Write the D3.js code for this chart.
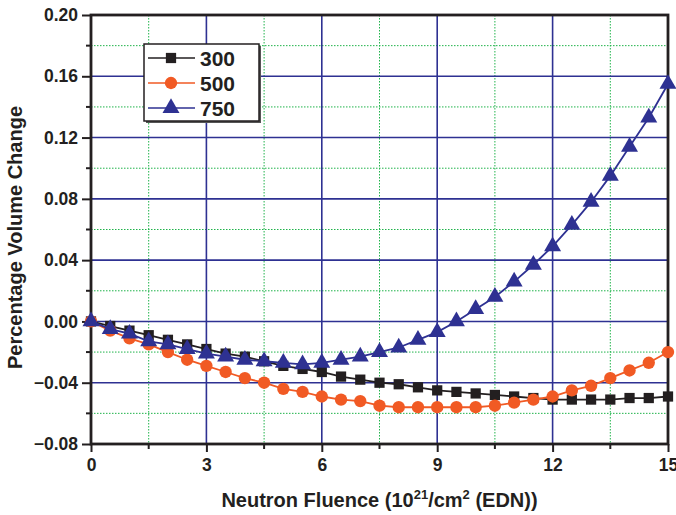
<!DOCTYPE html>
<html>
<head>
<meta charset="utf-8">
<script src="https://cdn.jsdelivr.net/npm/d3@7"></script>
<style>
  body { margin: 0; background: #fff; }
  text { font-family: 'Liberation Sans', Arial, sans-serif; font-weight: bold; }
</style>
</head>
<body>
<div id="chart"></div>
<script>
// fluence values, 0 to 15 in steps of 0.5
const fluence = [0, 0.5, 1, 1.5, 2, 2.5, 3, 3.5, 4, 4.5, 5, 5.5, 6, 6.5, 7, 7.5,
  8, 8.5, 9, 9.5, 10, 10.5, 11, 11.5, 12, 12.5, 13, 13.5, 14, 14.5, 15]

const series300 = [0, -0.003, -0.006, -0.009, -0.012, -0.015, -0.018, -0.021, -0.023, -0.026,
  -0.029, -0.031, -0.033, -0.036, -0.038, -0.040, -0.041, -0.043, -0.045, -0.046,
  -0.047, -0.048, -0.049, -0.050, -0.051, -0.051, -0.051, -0.051, -0.050, -0.050, -0.049]

const series500 = [0, -0.006, -0.011, -0.015, -0.020, -0.025, -0.029, -0.033, -0.037, -0.040,
  -0.044, -0.046, -0.049, -0.051, -0.052, -0.055, -0.056, -0.056, -0.056, -0.056,
  -0.056, -0.055, -0.053, -0.051, -0.049, -0.045, -0.042, -0.037, -0.032, -0.027, -0.020]

const series750 = [0, -0.005, -0.008, -0.013, -0.015, -0.018, -0.021, -0.023, -0.025, -0.026,
  -0.027, -0.028, -0.027, -0.025, -0.023, -0.020, -0.017, -0.012, -0.007, 0.000,
  0.008, 0.016, 0.026, 0.037, 0.049, 0.063, 0.078, 0.095, 0.114, 0.133, 0.155]

const seriesNames = ['300', '500', '750']
const xTicks = [0, 3, 6, 9, 12, 15]
const xMinor = [1.5, 4.5, 7.5, 10.5, 13.5]
const yTicks = [-0.08, -0.04, 0.00, 0.04, 0.08, 0.12, 0.16, 0.20]
const yMinor = [-0.06, -0.02, 0.02, 0.06, 0.10, 0.14, 0.18]

const W = 676
const H = 515
const margin = { top: 15, left: 91, right: 8, bottom: 71 }
const width = W - margin.left - margin.right
const height = H - margin.top - margin.bottom

const gridBlue = '#2e3192'
const gridGreen = '#1fb34a'
const colors = ['#231f20', '#f15a24', '#2e3192']
const shapes = [d3.symbolSquare, d3.symbolCircle, d3.symbolTriangle]
const sizes = [105, 120, 125]
const font = "'Liberation Sans', Arial, sans-serif"

const svg = d3
  .select('#chart')
  .append('svg')
  .attr('width', W)
  .attr('height', H)

const g = svg.append('g')
  .attr('transform', 'translate(' + margin.left + ',' + margin.top + ')')

const x = d3.scaleLinear().domain([0, 15]).range([0, width])
const y = d3.scaleLinear().domain([-0.08, 0.20]).range([height, 0])

// minor grid (green dotted)
g.selectAll('.vminor').data(xMinor).enter().append('line')
  .attr('x1', d => x(d)).attr('x2', d => x(d))
  .attr('y1', 0).attr('y2', height)
  .attr('stroke', gridGreen).attr('stroke-width', 1)
  .attr('stroke-dasharray', '1.5,1.5')
g.selectAll('.hminor').data(yMinor).enter().append('line')
  .attr('y1', d => y(d)).attr('y2', d => y(d))
  .attr('x1', 0).attr('x2', width)
  .attr('stroke', gridGreen).attr('stroke-width', 1)
  .attr('stroke-dasharray', '1.5,1.5')

// major grid (blue)
g.selectAll('.vmajor').data(xTicks.slice(1, -1)).enter().append('line')
  .attr('x1', d => x(d)).attr('x2', d => x(d))
  .attr('y1', 0).attr('y2', height)
  .attr('stroke', gridBlue).attr('stroke-width', 1.6)
g.selectAll('.hmajor').data(yTicks.slice(1, -1)).enter().append('line')
  .attr('y1', d => y(d)).attr('y2', d => y(d))
  .attr('x1', 0).attr('x2', width)
  .attr('stroke', gridBlue).attr('stroke-width', 1.6)

// axes
const xAxis = d3.axisBottom(x).tickValues(xTicks).tickSize(8).tickPadding(7)
  .tickFormat(d3.format('d'))
const yAxis = d3.axisLeft(y).tickValues(yTicks).tickSize(9).tickPadding(4)
  .tickFormat(d3.format('.2f'))

const gx = g.append('g').attr('transform', 'translate(0,' + height + ')').call(xAxis)
const gy = g.append('g').call(yAxis)

;[gx, gy].forEach(a => {
  a.select('.domain').remove()
  a.selectAll('.tick line').attr('stroke', '#231f20').attr('stroke-width', 2)
  a.selectAll('.tick text').attr('fill', '#231f20').style('font-size', '17.5px')
    .style('font-weight', 'bold').style('font-family', font)
})

// minor ticks
g.selectAll('.xmt').data(xMinor).enter().append('line')
  .attr('x1', d => x(d)).attr('x2', d => x(d))
  .attr('y1', height).attr('y2', height + 5)
  .attr('stroke', '#231f20').attr('stroke-width', 2)
g.selectAll('.ymt').data(yMinor).enter().append('line')
  .attr('y1', d => y(d)).attr('y2', d => y(d))
  .attr('x1', 0).attr('x2', -5)
  .attr('stroke', '#231f20').attr('stroke-width', 2)

// frame
g.append('rect')
  .attr('x', 0).attr('y', 0)
  .attr('width', width).attr('height', height)
  .attr('fill', 'none')
  .attr('stroke', '#231f20')
  .attr('stroke-width', 2.8)

// series
const allSeries = [series300, series500, series750]
allSeries.forEach((vals, i) => {
  const pts = fluence.map((f, j) => [f, vals[j]])
  const line = d3.line().x(d => x(d[0])).y(d => y(d[1]))
  g.append('path')
    .datum(pts)
    .attr('d', line)
    .attr('fill', 'none')
    .attr('stroke', colors[i])
    .attr('stroke-width', 1.8)
  g.selectAll('.pt' + i).data(pts).enter().append('path')
    .attr('d', d3.symbol().type(shapes[i]).size(sizes[i]))
    .attr('transform', d => 'translate(' + x(d[0]) + ',' + y(d[1]) + ')')
    .attr('fill', colors[i])
})

// legend
const legend = g.append('g').attr('transform', 'translate(' + (144 - margin.left) + ',' + (44 - margin.top) + ')')
legend.append('rect')
  .attr('x', 2).attr('y', 2).attr('width', 115).attr('height', 77)
  .attr('fill', '#555')
legend.append('rect')
  .attr('x', 0).attr('y', 0).attr('width', 115).attr('height', 77)
  .attr('fill', '#fff').attr('stroke', '#231f20').attr('stroke-width', 1.5)
seriesNames.forEach((name, i) => {
  const ly = 14 + i * 25
  legend.append('line')
    .attr('x1', 4).attr('x2', 51).attr('y1', ly).attr('y2', ly)
    .attr('stroke', colors[i]).attr('stroke-width', 1.6)
  legend.append('path')
    .attr('d', d3.symbol().type(shapes[i]).size(sizes[i]))
    .attr('transform', 'translate(27,' + ly + ')')
    .attr('fill', colors[i])
  legend.append('text')
    .attr('x', 56).attr('y', ly)
    .attr('dy', '0.36em')
    .style('font-size', '21px')
    .attr('fill', '#231f20')
    .text(name)
})

// axis titles
svg.append('text')
  .attr('transform', 'translate(22,' + (margin.top + height / 2 + 8) + ') rotate(-90)')
  .attr('text-anchor', 'middle')
  .style('font-size', '20px')
  .attr('fill', '#231f20')
  .text('Percentage Volume Change')

const xt = svg.append('text')
  .attr('x', margin.left + width / 2)
  .attr('y', 507)
  .attr('text-anchor', 'middle')
  .style('font-size', '20px')
  .attr('fill', '#231f20')
xt.append('tspan').text('Neutron Fluence (10')
xt.append('tspan').attr('dy', -8).style('font-size', '13px').text('21')
xt.append('tspan').attr('dy', 8).text('/cm')
xt.append('tspan').attr('dy', -8).style('font-size', '13px').text('2')
xt.append('tspan').attr('dy', 8).text(' (EDN))')
</script>
</body>
</html>
